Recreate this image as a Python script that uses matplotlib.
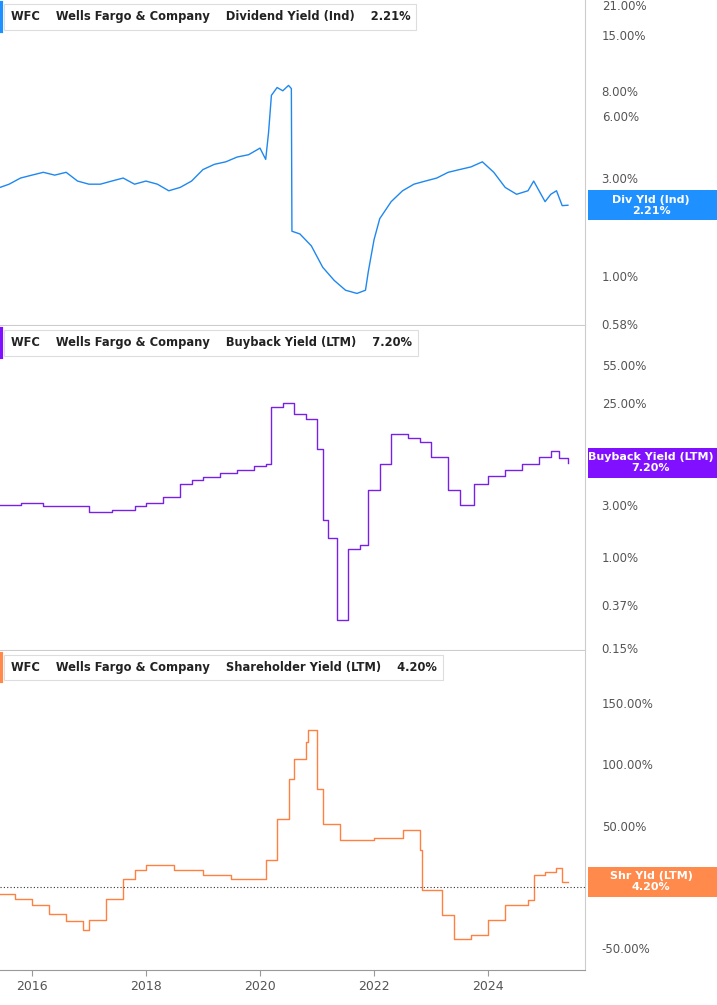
import matplotlib
matplotlib.use("Agg")
import matplotlib.pyplot as plt
from matplotlib.ticker import FixedLocator, NullLocator, NullFormatter
from matplotlib.patches import Rectangle

# ---- data ----
div_t = [2015.44,2015.6,2015.8,2016.0,2016.2,2016.4,2016.6,2016.8,2017.0,2017.2,2017.4,2017.6,2017.8,2018.0,2018.2,2018.4,2018.6,2018.8,2019.0,2019.2,2019.4,2019.6,2019.8,2020.0,2020.1,2020.15,2020.2,2020.3,2020.4,2020.5,2020.55,2020.56,2020.7,2020.9,2021.1,2021.3,2021.5,2021.7,2021.85,2021.9,2022.0,2022.1,2022.3,2022.5,2022.7,2022.9,2023.1,2023.3,2023.5,2023.7,2023.9,2024.1,2024.3,2024.5,2024.7,2024.8,2025.0,2025.1,2025.2,2025.3,2025.4]
div_v = [2.7,2.8,3.0,3.1,3.2,3.1,3.2,2.9,2.8,2.8,2.9,3.0,2.8,2.9,2.8,2.6,2.7,2.9,3.3,3.5,3.6,3.8,3.9,4.2,3.7,5.0,7.6,8.3,8.0,8.5,8.2,1.65,1.6,1.4,1.1,0.95,0.85,0.82,0.85,1.05,1.5,1.9,2.3,2.6,2.8,2.9,3.0,3.2,3.3,3.4,3.6,3.2,2.7,2.5,2.6,2.9,2.3,2.5,2.6,2.2,2.21]

bb_t = [2015.44,2015.8,2016.2,2016.6,2017.0,2017.4,2017.8,2018.0,2018.3,2018.6,2018.8,2019.0,2019.3,2019.6,2019.9,2020.1,2020.2,2020.4,2020.6,2020.8,2021.0,2021.1,2021.2,2021.35,2021.55,2021.75,2021.9,2022.1,2022.3,2022.6,2022.8,2023.0,2023.3,2023.5,2023.75,2024.0,2024.3,2024.6,2024.9,2025.1,2025.25,2025.4]
bb_v = [3.0,3.1,2.9,2.9,2.6,2.7,2.9,3.1,3.5,4.6,5.0,5.3,5.8,6.2,6.8,7.0,23,25,20,18,9.6,2.2,1.5,0.27,1.2,1.3,4.1,7.0,13.0,12.0,11.0,8.2,4.1,3.0,4.6,5.5,6.2,7.0,8.2,9.2,8.0,7.2]

sh_t = [2015.44,2015.7,2016.0,2016.3,2016.6,2016.9,2017.0,2017.3,2017.6,2017.8,2018.0,2018.5,2019.0,2019.5,2020.0,2020.1,2020.3,2020.5,2020.6,2020.8,2020.85,2021.0,2021.1,2021.4,2022.0,2022.5,2022.8,2022.85,2023.2,2023.4,2023.7,2024.0,2024.3,2024.7,2024.8,2025.0,2025.2,2025.3,2025.4]
sh_v = [-6,-10,-15,-22,-28,-35,-27,-10,6,14,18,14,10,6,6,22,55,88,104,118,128,80,51,38,40,46,30,-3,-23,-43,-39,-27,-15,-11,10,12,15,4.2,4.2]

x_ticks = [2016, 2018, 2020, 2022, 2024]
p1_ticks = [0.58, 1, 2, 3, 6, 8, 15, 21]
p2_ticks = [0.15, 0.37, 1, 3, 25, 55]
p3_ticks = [-50, 0, 50, 100, 150]

W, H = 717, 1005
fig = plt.figure(figsize=(W/100, H/100), dpi=100)
fig.patch.set_facecolor("white")
XL = (2015.44, 2025.70)
PW = 585

def ax_px(top, bottom):
    return fig.add_axes([0, 1-bottom/H, PW/W, (bottom-top)/H])

panels = [
    dict(top=0, bot=325, t=div_t, v=div_v, color="#1E88F0", tag="#1E90FF",
         log=True, ylim=(0.575, 22.2), ticks=p1_ticks, step=False,
         title="Dividend Yield (Ind)", val="2.21%", tagname="Div Yld (Ind)", last=2.21),
    dict(top=326, bot=650, t=bb_t, v=bb_v, color="#7A1FE8", tag="#8010FF",
         log=True, ylim=(0.145, 125), ticks=p2_ticks, step=True,
         title="Buyback Yield (LTM)", val="7.20%", tagname="Buyback Yield (LTM)", last=7.2),
    dict(top=651, bot=970, t=sh_t, v=sh_v, color="#FF8040", tag="#FF8A4C",
         log=False, ylim=(-68, 192.6), ticks=p3_ticks, step=True,
         title="Shareholder Yield (LTM)", val="4.20%", tagname="Shr Yld (LTM)", last=4.2),
]

for i, p in enumerate(panels):
    ax = ax_px(p["top"], p["bot"])
    if p["log"]:
        ax.set_yscale("log")
    ax.plot(p["t"], p["v"], color=p["color"], lw=1.0,
            drawstyle="steps-post" if p["step"] else "default")
    ax.set_xlim(*XL)
    ax.set_ylim(*p["ylim"])
    ax.yaxis.tick_right()
    ax.yaxis.set_major_locator(FixedLocator(p["ticks"]))
    ax.yaxis.set_minor_locator(NullLocator())
    ax.yaxis.set_minor_formatter(NullFormatter())
    ax.set_yticklabels([f"{t:.2f}%" for t in p["ticks"]], fontsize=8.5, color="#555555")
    ax.tick_params(axis="y", length=0, pad=12)
    ax.xaxis.set_major_locator(FixedLocator(x_ticks))
    if i < 2:
        ax.set_xticklabels([])
        ax.tick_params(axis="x", length=0)
    else:
        ax.set_xticklabels([str(t) for t in x_ticks], fontsize=9, color="#555555")
        ax.tick_params(axis="x", length=4, color="#999999")
        ax.axhline(0, color="#333333", lw=0.8, ls=(0, (1, 2)))
    for s in ["left", "top"]:
        ax.spines[s].set_visible(False)
    ax.spines["right"].set_color("#cccccc")
    ax.spines["bottom"].set_color("#cccccc" if i < 2 else "#999999")
    # header
    ax.text(0.018, 0.948, f"WFC    Wells Fargo & Company    {p['title']}    {p['val']}",
            transform=ax.transAxes, fontsize=8.3, fontweight="bold",
            va="center", ha="left", color="#222222", zorder=5,
            bbox=dict(boxstyle="square,pad=0.55", fc="white", ec="#dddddd", lw=0.8))
    ax.axvline(XL[0] + 0.012, ymin=0.905, ymax=0.99, color=p["tag"], lw=3, zorder=6)
    # tag
    yfrac = ax.transAxes.inverted().transform(ax.transData.transform((XL[0], p["last"])))[1]
    hfrac = 30 / (p["bot"] - p["top"])
    ax.add_patch(Rectangle((1.0 + 3/PW, yfrac - hfrac/2), (W - PW - 3)/PW, hfrac,
                           transform=ax.transAxes, fc=p["tag"], ec="none",
                           clip_on=False, zorder=5))
    ax.text(1.0 + (W - PW)/2/PW, yfrac, f"{p['tagname']}\n{p['val']}",
            transform=ax.transAxes, ha="center", va="center", fontsize=8,
            fontweight="bold", color="white", linespacing=1.1, zorder=6, clip_on=False)

fig.savefig("out.png", dpi=100)
